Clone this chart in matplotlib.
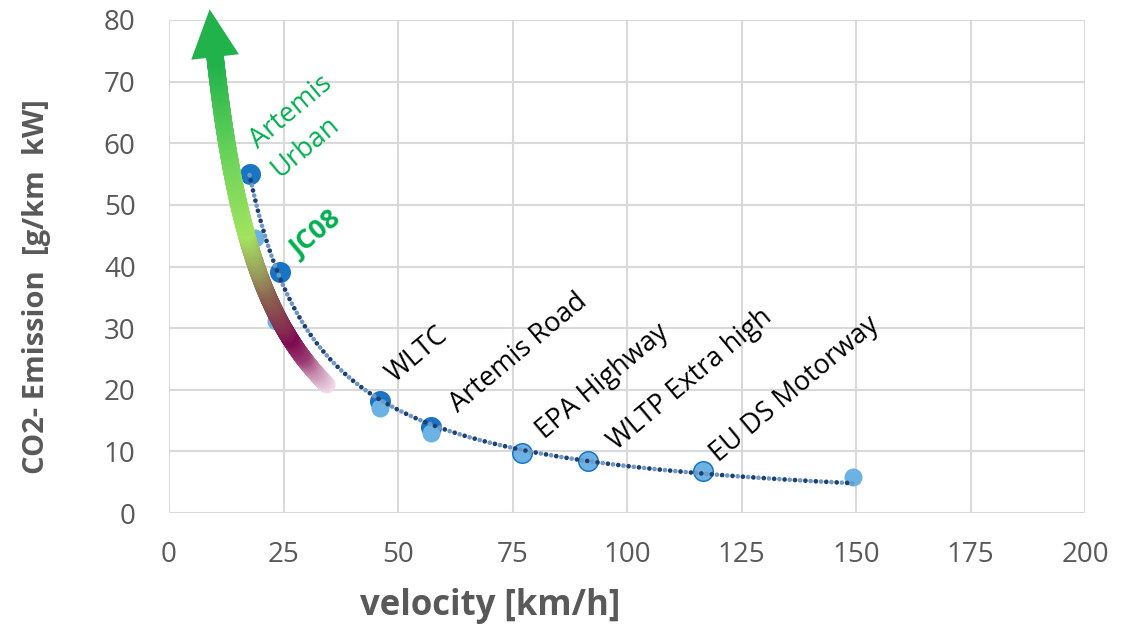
import numpy as np
import matplotlib
matplotlib.use("Agg")
import matplotlib.pyplot as plt
from matplotlib.collections import LineCollection
from matplotlib.colors import LinearSegmentedColormap
from matplotlib.patches import Polygon

plt.rcParams['font.family'] = ['Open Sans', 'DejaVu Sans']

# driving cycles: mean velocity [km/h] vs CO2 emission [g/km kW]
v_dark = [17.6, 24.3, 46.1, 57.2, 77.0, 91.5, 116.7]
e_dark = [55.0, 39.1, 18.2, 14.0, 9.7, 8.4, 6.8]
v_light = [18.7, 23.4, 46.1, 57.2, 77.0, 91.5, 116.7, 149.3]
e_light = [44.6, 31.1, 17.0, 13.0, 9.7, 8.4, 6.8, 5.8]

cycle_names = ["WLTC", "Artemis Road", "EPA Highway", "WLTP Extra high", "EU DS Motorway"]
name_v = [49.2, 63.2, 82.0, 97.8, 120.0]
name_e = [21.1, 16.2, 11.9, 10.2, 8.1]

# gradient arrow path, tail -> head
arrow_v = [34.3, 26.8, 21.2, 15.9, 12.9, 10.7, 10.4]
arrow_e = [20.8, 28.6, 35.7, 46.0, 58.9, 70.0, 74.0]

GREY = "#595959"
DARK = "#1a74c4"
LIGHT = "#6cb3e3"

fig = plt.figure(figsize=(11.23, 6.32), dpi=100)
ax = fig.add_axes([169 / 1123, 1 - 513 / 632, 916 / 1123, 493 / 632])
ax.set_xlim(0, 200)
ax.set_ylim(0, 80)
ax.set_xticks(np.arange(0, 201, 25))
ax.set_yticks(np.arange(0, 81, 10))
ax.grid(True, color="#d9d9d9", lw=1.5)
ax.set_axisbelow(True)
for s in ax.spines.values():
    s.set_visible(False)
ax.tick_params(length=0, labelsize=20, labelcolor=GREY)
ax.tick_params(axis="x", pad=20)
ax.tick_params(axis="y", pad=24)

# markers
ax.scatter(v_dark, e_dark, s=21 ** 2 * 0.52, color=DARK, zorder=3, linewidths=0)
ax.scatter(v_light, e_light, s=18 ** 2 * 0.52, color=LIGHT, zorder=4, linewidths=0)

# gradient arrow: smooth path v = p(1/e)
k = np.polyfit(1 / np.array(arrow_e), arrow_v, 2)
ee = np.linspace(arrow_e[0], arrow_e[-1], 500)
vv = np.polyval(k, 1 / ee)
pts = np.column_stack([vv, ee]).reshape(-1, 1, 2)
segs = np.concatenate([pts[:-1], pts[1:]], axis=1)
t_col = (ee[:-1] - ee[0]) / (ee[-1] - ee[0])
cmap = LinearSegmentedColormap.from_list("arr", [
    (0.00, "#f0dbe8"), (0.05, "#c98fb2"), (0.09, "#9a3e74"), (0.145, "#7f0a50"),
    (0.19, "#862f50"), (0.28, "#8a6050"), (0.36, "#9a9c5c"), (0.47, "#a3e35f"),
    (0.72, "#6bd35a"), (1.00, "#22b24c")])
lc = LineCollection(segs, colors=cmap(t_col), lw=12.5, capstyle="round", zorder=5)
ax.add_collection(lc)

# arrow head, built in pixel space
tr = ax.transData
p_end = tr.transform((vv[-1], ee[-1]))
p_prev = tr.transform((vv[-20], ee[-20]))
d = (p_end - p_prev) / np.linalg.norm(p_end - p_prev)
n = np.array([-d[1], d[0]])
head = [p_end + n * 24, p_end + d * 48, p_end - n * 24]
head = tr.inverted().transform(head)
ax.add_patch(Polygon(head, closed=True, color="#22b24c", lw=0, zorder=6, clip_on=False))

# power trend line
b, a = np.polyfit(np.log(v_dark), np.log(e_dark), 1)
tv = np.linspace(min(v_dark), 150, 300)
te = np.exp(a) * tv ** b
ax.plot(tv, te, color="#6d99c9", lw=3.4, ls=(0, (0.01, 2.2)), dash_capstyle="round", zorder=7)
ax.plot(tv, te, color="#1f3f6e", lw=3.4, ls=(1.1, (0.01, 2.2)), dash_capstyle="round", zorder=7)

# labels
for name, x, y in zip(cycle_names, name_v, name_e):
    ax.text(x, y, name, rotation=40, rotation_mode="anchor", ha="left", va="baseline",
            fontsize=19.5, color="black", zorder=8)
ax.text(19.5, 59.0, "Artemis", rotation=40, rotation_mode="anchor", fontsize=19.5,
        color="#00b050", zorder=8)
ax.text(24.2, 54.4, "Urban", rotation=40, rotation_mode="anchor", fontsize=19.5,
        color="#00b050", zorder=8)
ax.text(28.5, 41.3, "JC08", rotation=40, rotation_mode="anchor", fontsize=19.5,
        fontweight="bold", color="#00b050", zorder=8)

fig.text(490 / 1123, 1 - 606 / 632, "velocity [km/h]", ha="center", va="center",
         fontsize=25, fontweight="bold", color=GREY)
fig.text(37 / 1123, 1 - 287 / 632, "CO2- Emission  [g/km  kW]", ha="center", va="center",
         rotation=90, fontsize=21, fontweight="bold", color=GREY)

fig.savefig("out.png", dpi=100)
